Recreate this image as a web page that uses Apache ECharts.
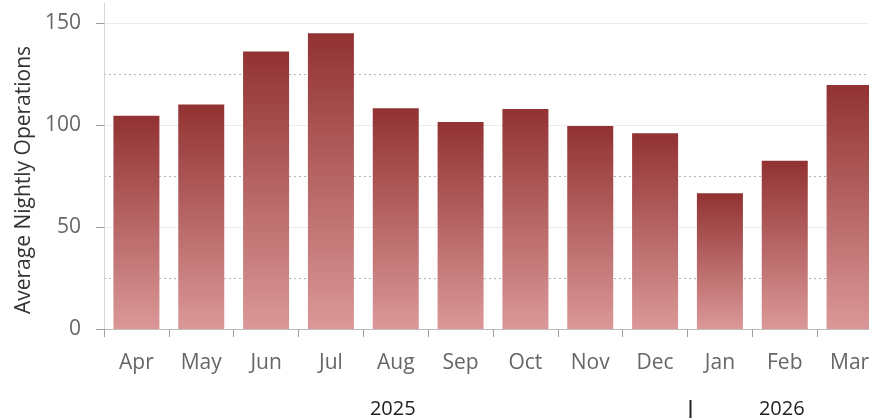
<!DOCTYPE html>
<html>
<head>
<meta charset="utf-8">
<script src="https://cdn.jsdelivr.net/npm/echarts@6/dist/echarts.min.js"></script>
<style>html,body{margin:0;padding:0;background:#fff}#c{width:869px;height:420px}</style>
</head>
<body>
<div id="c"></div>
<script>
var months = ['Apr','May','Jun','Jul','Aug','Sep','Oct','Nov','Dec','Jan','Feb','Mar'];
var years = ['2025','2025','2025','2025','2025','2025','2025','2025','2025','2026','2026','2026'];
var values = [104.5, 110, 136, 145, 108.2, 101.5, 107.8, 99.5, 96, 66.5, 82.5, 119.6];
var yTicks = [0, 50, 100, 150];
var yName = 'Average Nightly Operations';

var FONT = '"Open Sans", "Noto Sans", sans-serif';
var chart = echarts.init(document.getElementById('c'), null, {renderer: 'canvas'});
var option = {
  animation: false,
  backgroundColor: '#fff',
  grid: [
    {left: 104, width: 778, top: 23, bottom: 91, containLabel: false, outerBoundsMode: 'none'},
    {left: 104, width: 778, top: 3, bottom: 91, containLabel: false, outerBoundsMode: 'none'}
  ],
  xAxis: [{
    type: 'category', data: months, gridIndex: 0,
    axisLine: {show: true, lineStyle: {color: '#bdbdbd', width: 1}},
    axisTick: {show: true, length: 8, lineStyle: {color: '#a0a0a0'}},
    axisLabel: {color: '#666', fontSize: 21, fontFamily: FONT, margin: 24, interval: 0},
    splitLine: {show: false}
  }, {
    type: 'category', data: months, gridIndex: 1, show: false
  }],
  yAxis: [{
    type: 'value', gridIndex: 0, min: yTicks[0], max: yTicks[yTicks.length - 1], interval: yTicks[1] - yTicks[0],
    name: yName, nameLocation: 'middle', nameGap: 68, nameRotate: 90,
    nameTextStyle: {color: '#333', fontSize: 21, fontFamily: FONT, padding: [0, 8, 0, 0]},
    axisLine: {show: false},
    axisTick: {show: true, length: 8, lineStyle: {color: '#a0a0a0'}},
    axisLabel: {color: '#666', fontSize: 21, fontFamily: FONT, margin: 23},
    splitLine: {show: true, lineStyle: {color: '#ebebeb', width: 1}},
    minorTick: {show: false, splitNumber: 2},
    minorSplitLine: {show: true, lineStyle: {color: '#b5b5b5', type: [2, 3], width: 1}}
  }, {
    type: 'value', gridIndex: 1, min: 0, max: 1,
    axisLine: {show: true, lineStyle: {color: '#d6d6d6', width: 1}},
    axisTick: {show: false}, axisLabel: {show: false}, splitLine: {show: false}
  }],
  series: [{
    type: 'bar', data: values, xAxisIndex: 0, yAxisIndex: 0,
    barWidth: 46,
    itemStyle: {
      color: new echarts.graphic.LinearGradient(0, 0, 0, 1, [
        {offset: 0, color: '#923232'},
        {offset: 1, color: '#db9898'}
      ])
    }
  }]
};
chart.setOption(option);

// Year group labels computed from the category scale
var groups = [];
years.forEach(function (y, i) {
  var g = groups[groups.length - 1];
  if (!g || g.year !== y) { groups.push({year: y, first: i, last: i}); }
  else { g.last = i; }
});
var graphics = [];
groups.forEach(function (g, gi) {
  var x1 = chart.convertToPixel({xAxisIndex: 0}, months[g.first]);
  var x2 = chart.convertToPixel({xAxisIndex: 0}, months[g.last]);
  graphics.push({
    type: 'text', x: (x1 + x2) / 2 - 3, y: 409,
    style: {text: g.year, fill: '#222', font: '20px ' + FONT, textAlign: 'center', textVerticalAlign: 'middle'}
  });
  if (gi > 0) {
    var xp = chart.convertToPixel({xAxisIndex: 0}, months[g.first - 1]);
    var xb = (xp + x1) / 2 + 3;
    graphics.push({
      type: 'line', shape: {x1: xb, y1: 400, x2: xb, y2: 418},
      style: {stroke: '#222', lineWidth: 2}
    });
  }
});
chart.setOption({graphic: graphics});
</script>
</body>
</html>
